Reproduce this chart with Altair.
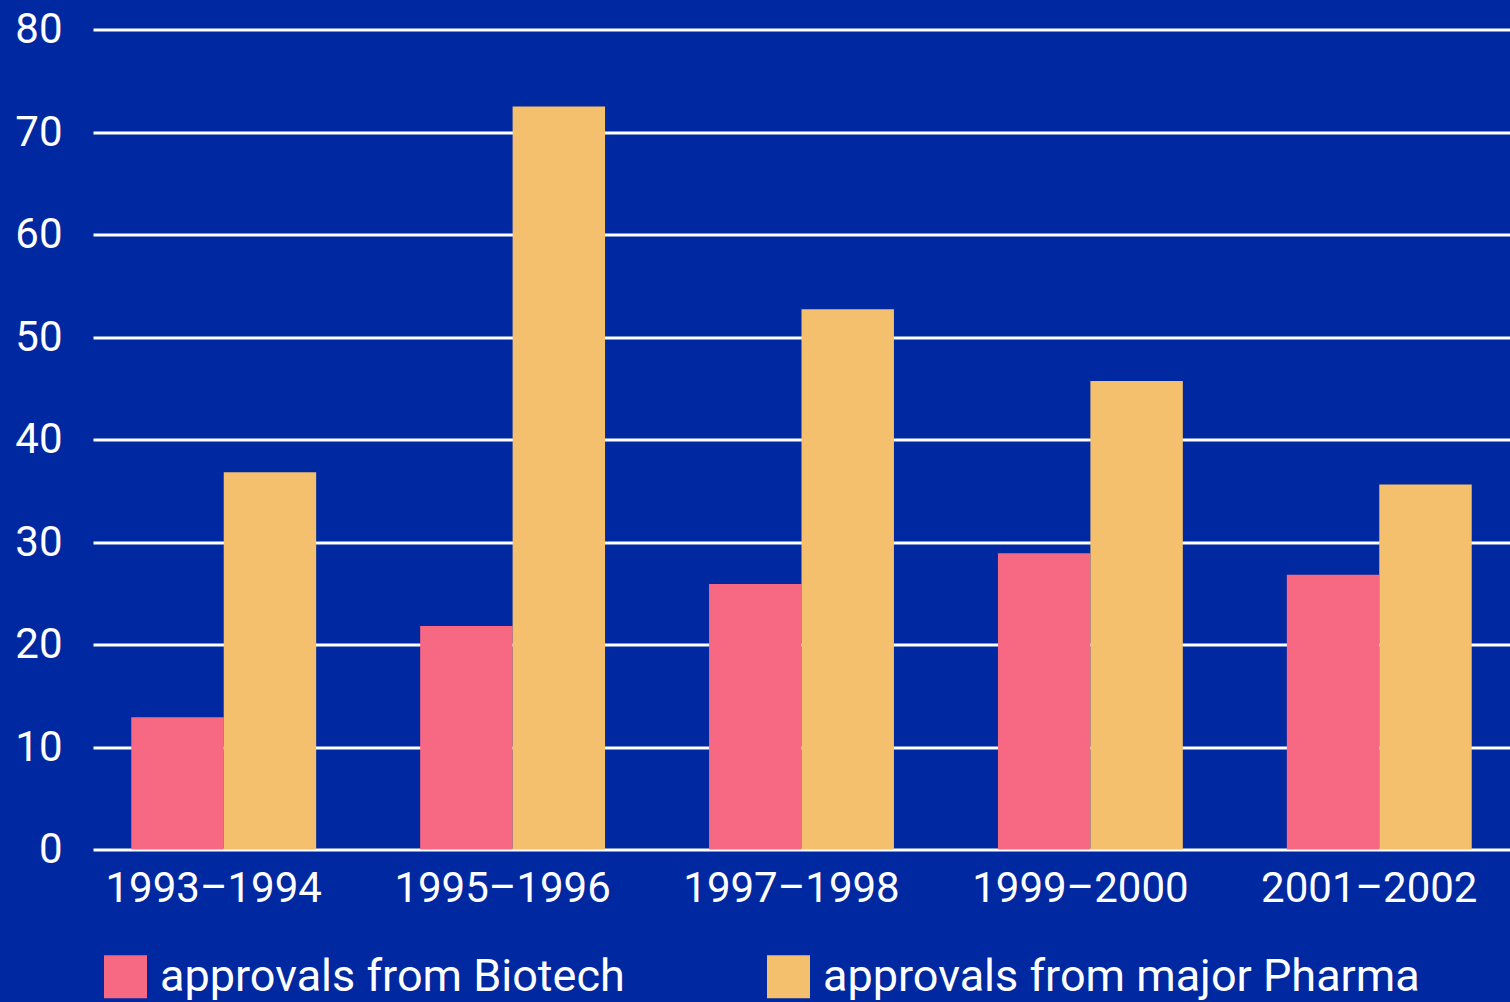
import altair as alt
import pandas as pd

# Drug approvals per two-year period, by source
periods = ["1993–1994", "1995–1996", "1997–1998", "1999–2000", "2001–2002"]
biotech = [12.9, 21.8, 25.9, 28.9, 26.8]
pharma = [36.8, 72.5, 52.7, 45.7, 35.6]

series_names = ["approvals from Biotech", "approvals from major Pharma"]
series_colors = ["#F76882", "#F5C06E"]
y_ticks = [0, 10, 20, 30, 40, 50, 60, 70, 80]

rows = []
for p, b, m in zip(periods, biotech, pharma):
    rows.append({"period": p, "source": series_names[0], "approvals": b})
    rows.append({"period": p, "source": series_names[1], "approvals": m})
df = pd.DataFrame(rows)

FONT = "Roboto"

chart = (
    alt.Chart(df)
    .mark_bar()
    .encode(
        x=alt.X(
            "period:N",
            sort=periods,
            scale=alt.Scale(paddingInner=0.36, paddingOuter=0.1325),
            axis=alt.Axis(
                title=None,
                labelAngle=0,
                labelFontSize=42,
                labelFont=FONT,
                labelColor="white",
                labelPadding=19,
                labelOffset=-10,
                labelLimit=1000,
                ticks=False,
                domain=False,
                grid=False,
            ),
        ),
        xOffset=alt.XOffset("source:N", sort=series_names, scale=alt.Scale(paddingInner=0, paddingOuter=0)),
        y=alt.Y(
            "approvals:Q",
            scale=alt.Scale(domain=[0, 80], nice=False),
            axis=alt.Axis(
                title=None,
                values=y_ticks,
                labelFontSize=42,
                labelFont=FONT,
                labelColor="white",
                labelPadding=31,
                ticks=False,
                domain=False,
                grid=True,
                gridColor="white",
                gridWidth=3,
                gridOpacity=1,
            ),
        ),
        color=alt.Color(
            "source:N",
            sort=series_names,
            scale=alt.Scale(domain=series_names, range=series_colors),
            legend=alt.Legend(
                title=None,
                orient="none",
                legendX=10,
                legendY=924.5,
                direction="horizontal",
                columns=2,
                columnPadding=141,
                symbolType="square",
                symbolSize=1849,
                symbolStrokeWidth=0,
                symbolOpacity=1,
                labelFontSize=45,
                labelFont=FONT,
                labelColor="white",
                labelOffset=12,
                labelLimit=1000,
                padding=0,
            ),
        ),
    )
    .properties(
        width=1417,
        height=820,
        background="#0028A0",
        padding={"left": 93, "top": 29.5, "right": 0, "bottom": 152.5},
        autosize=alt.AutoSizeParams(type="none"),
    )
    .configure_view(stroke=None)
)

chart.save("out.html", embed_options={"renderer": "svg", "actions": False})
